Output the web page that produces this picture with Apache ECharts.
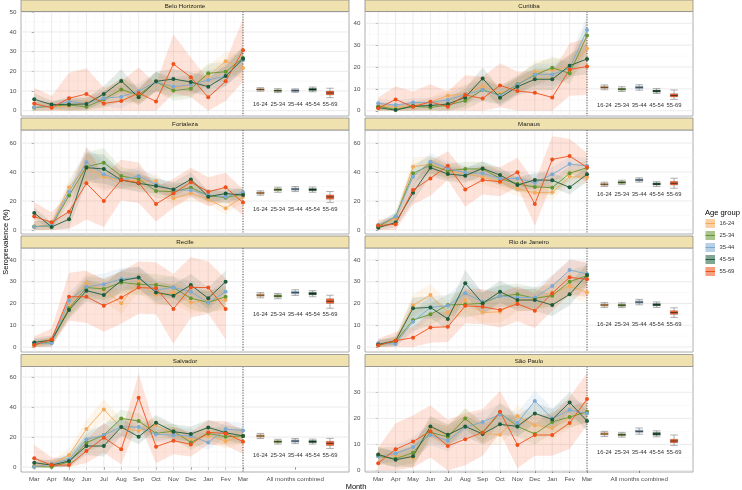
<!DOCTYPE html>
<html>
<head>
<meta charset="utf-8">
<script src="https://cdn.jsdelivr.net/npm/echarts@6/dist/echarts.min.js"></script>
<style>html,body{margin:0;padding:0;background:#fff;}#c{width:742px;height:490px;}</style>
</head>
<body>
<div id="c"></div>
<script>
// ---------------- DATA ----------------
const months = ['Mar','Apr','May','Jun','Jul','Aug','Sep','Oct','Nov','Dec','Jan','Fev','Mar'];
const combinedLabel = 'All months combined';
const ageGroups = ['16-24','25-34','35-44','45-54','55-69'];
const cities = ['Belo Horizonte','Curitiba','Fortaleza','Manaus','Recife','Rio de Janeiro','Salvador','São Paulo'];
const yTickValues = [
  [0,10,20,30,40,50],[0,10,20,30,40],[0,20,40,60],[0,20,40,60],
  [0,10,20,30,40],[0,10,20,30,40],[0,20,40,60],[0,10,20,30]
];

// monthly seroprevalence (%) per age group [16-24, 25-34, 35-44, 45-54, 55-69]
const bhValues = [
  [1.7,2.0,2.4,4.4,5.8,10.8,7.1,14.7,11.4,13.0,17.6,25.1,21.7],
  [1.5,2.4,2.9,2.0,5.8,10.8,8.0,14.7,10.2,11.2,19.0,19.8,26.8],
  [1.7,2.2,4.6,3.7,6.3,7.1,10.0,14.6,12.2,13.2,15.6,17.6,25.8],
  [5.8,3.1,3.2,3.4,8.5,15.1,6.8,14.9,16.1,14.6,12.2,17.6,26.4],
  [3.6,1.5,6.3,8.5,3.7,4.9,9.0,4.7,23.7,17.0,6.8,14.9,30.7]
];
const curitibaValues = [
  [2.1,1.8,2.1,4.1,6.9,7.8,11.3,7.9,11.3,17.9,18.6,20.2,28.5],
  [2.1,0.6,2.1,1.5,2.6,4.6,9.5,7.2,12.1,16.3,19.7,17.1,34.4],
  [3.4,2.6,3.8,3.8,4.9,7.5,9.5,6.9,11.8,16.6,16.6,19.4,36.9],
  [1.4,0.3,2.1,2.4,3.1,6.1,14.8,6.0,11.0,14.4,14.4,20.6,23.7],
  [1.1,5.2,1.8,4.1,1.8,7.2,5.6,11.6,9.0,8.2,6.1,18.9,20.2]
];
const fortalezaValues = [
  [2.1,3.9,29.4,43.0,36.8,34.5,33.8,33.8,21.8,25.3,21.4,14.9,23.0],
  [2.3,2.8,23.7,43.7,46.4,37.2,35.2,26.9,26.4,29.2,23.7,22.3,24.8],
  [2.1,3.4,26.4,46.7,38.4,34.5,37.2,31.5,27.6,27.4,24.1,23.0,26.0],
  [11.7,2.1,7.4,43.0,42.1,34.5,32.2,30.3,28.0,34.9,23.0,25.1,24.1],
  [9.2,5.3,12.6,32.2,20.0,34.5,32.6,17.9,25.3,32.9,26.4,29.4,18.9]
];
const manausValues = [
  [3.0,8.0,43.7,45.3,40.2,39.1,36.3,33.3,28.3,25.7,26.0,36.8,36.3],
  [2.3,9.2,39.1,44.8,40.7,42.1,42.1,35.6,31.7,29.7,29.2,39.1,43.0],
  [3.4,9.2,36.8,47.1,42.5,39.5,39.1,35.6,35.6,32.6,38.4,45.5,44.1],
  [1.6,5.1,25.7,43.0,38.6,37.5,42.5,37.9,31.0,34.5,34.3,29.4,38.4],
  [3.0,3.9,27.6,35.6,44.4,28.0,34.5,33.3,39.8,17.9,48.7,51.0,43.2]
];
const recifeValues = [
  [0.5,2.8,18.5,29.3,26.2,20.1,30.0,23.9,25.0,20.5,21.3,21.6],
  [1.2,2.5,17.8,27.3,26.7,29.7,28.8,28.5,27.3,22.4,20.5,23.1],
  [1.7,1.7,21.3,27.7,28.8,31.3,31.9,26.2,27.4,25.4,20.4,25.4],
  [2.1,3.2,17.0,25.9,23.9,30.5,31.9,25.1,23.6,28.5,22.4,30.0],
  [0.9,3.5,23.1,23.1,19.0,22.7,27.3,27.0,17.5,27.4,27.3,17.5]
];
const rioValues = [
  [0.8,2.9,19.2,23.9,15.8,21.6,15.8,16.2,21.3,21.9,24.7,28.0,25.1],
  [0.9,2.5,12.4,15.0,19.3,19.6,20.1,23.4,24.2,22.4,23.6,30.0,32.8],
  [1.7,1.4,11.6,18.2,19.0,24.7,20.8,23.4,22.8,22.7,28.0,35.4,33.6],
  [1.2,2.9,17.8,18.2,12.9,29.3,20.1,25.4,21.6,21.6,19.3,24.2,33.1],
  [0.8,2.9,4.3,9.0,9.3,18.9,18.5,17.0,19.8,16.7,24.7,32.0,31.1]
];
const salvadorValues = [
  [0.9,2.0,8.0,25.3,38.4,26.2,24.0,28.0,21.8,18.4,20.9,17.3,20.9],
  [0.2,0.0,3.6,16.2,21.3,32.4,30.7,22.4,24.0,16.4,22.4,20.2,20.7],
  [0.2,2.0,5.1,18.4,21.3,26.7,26.7,21.8,21.3,20.7,16.4,25.3,24.4],
  [2.9,1.3,4.0,14.0,14.0,26.7,20.2,29.6,23.6,22.0,26.4,22.9,20.7],
  [5.8,1.3,1.3,10.7,19.6,11.8,46.2,13.6,17.6,15.1,23.1,22.4,16.9]
];
const saoPauloValues = [
  [6.1,5.8,4.8,16.3,13.3,19.9,14.2,13.7,20.9,17.3,16.3,20.3,22.5],
  [5.4,4.5,6.8,14.6,12.9,19.9,14.4,22.1,16.9,14.0,18.6,20.5,22.5],
  [5.4,6.5,9.0,13.6,11.4,16.6,18.6,21.5,18.2,26.7,19.9,23.2,21.9],
  [6.1,4.1,5.4,16.9,13.7,16.9,14.0,17.7,16.9,21.9,19.6,26.1,19.0],
  [2.8,8.1,11.1,15.0,9.4,12.0,14.6,22.5,9.8,13.6,13.6,18.2,27.4]
];

// half-widths of the credible bands: [groups 16-54, group 55-69]
const bhBand = [[3,2,3,3,4,6,4,5,5,5,5,5,6],[8,6,13,13,8,10,13,9,15,10,9,10,16]];
const curitibaBand = [[2,2,2,2,3,4,5,4,4,5,5,5,7],[5,6,7,8,7,9,10,10,9,10,11,12,13]];
const fortalezaBand = [[4,3,6,10,10,6,6,5,5,5,4,4,4],[10,7,12,25,18,14,14,12,10,10,10,10,9]];
const manausBand = [[2,3,6,6,5,5,5,5,5,5,5,5,5],[4,5,10,12,10,12,10,10,10,15,16,12,10]];
const recifeBand = [[2,2,4,5,5,5,5,5,5,5,5,5],[4,5,11,12,12,12,12,12,16,14,12,14]];
const rioBand = [[2,2,5,5,5,6,5,5,5,5,5,5,5],[3,4,5,7,7,8,8,8,8,8,8,8,8]];
const salvadorBand = [[3,3,4,6,7,6,5,5,5,5,5,5,5],[9,5,4,8,10,10,16,11,9,8,8,8,8]];
const saoPauloBand = [[3,3,4,4,4,4,4,4,4,4,4,4,4],[6,10,10,10,10,10,9,8,9,8,8,10,10]];

// all months combined: [median, q1, q3, low, high] per age group
const bhCombined = [[10.8,10.2,10.2,10.8,9.0],[10.3,9.7,9.7,10.2,8.0],[11.2,10.6,10.7,11.4,10.0],[9.9,9.2,9.3,9.6,6.6],[11.7,11.2,11.1,12.0,11.4]];
const curitibaCombined = [[10.7,9.9,10.7,9.0,7.0],[10.2,9.4,10.1,8.5,6.3],[11.2,10.3,11.2,9.5,7.8],[9.6,8.8,9.4,7.9,5.2],[11.8,11.0,11.9,10.2,9.5]];
const fortalezaCombined = [[25.5,27.8,28.2,27.8,22.8],[24.8,27.0,27.4,27.0,21.2],[26.2,28.5,29.0,28.6,24.2],[24.0,26.0,26.5,26.0,19.0],[27.0,29.5,30.0,29.6,26.5]];
const manausCombined = [[31.5,32.8,34.5,31.7,32.2],[30.8,32.1,33.8,31.0,31.0],[32.2,33.5,35.2,32.5,33.6],[30.0,31.3,33.0,30.0,28.8],[33.0,34.3,36.0,33.3,35.7]];
const recifeCombined = [[23.8,23.4,25.0,24.5,21.0],[23.3,22.9,24.4,23.9,20.0],[24.4,24.0,25.6,25.2,22.2],[22.6,22.2,23.7,23.1,17.8],[25.0,24.6,26.3,25.9,23.8]];
const rioCombined = [[19.3,19.2,20.6,19.4,15.8],[18.8,18.7,20.1,18.9,15.0],[19.8,19.7,21.2,20.0,16.7],[18.2,18.1,19.4,18.2,13.6],[20.4,20.3,21.9,20.7,18.0]];
const salvadorCombined = [[20.7,16.9,17.3,16.9,15.8],[19.9,16.2,16.6,16.2,14.3],[21.5,17.6,18.1,17.7,17.2],[19.0,15.3,15.6,15.3,12.4],[22.4,18.5,19.0,18.6,19.1]];
const saoPauloCombined = [[14.0,13.7,15.0,14.0,11.3],[13.6,13.3,14.6,13.5,10.6],[14.5,14.1,15.5,14.6,12.0],[13.0,12.8,13.9,12.9,9.6],[15.0,14.6,16.3,15.2,13.6]];

const cityValues = [bhValues,curitibaValues,fortalezaValues,manausValues,recifeValues,rioValues,salvadorValues,saoPauloValues];
const cityBands = [bhBand,curitibaBand,fortalezaBand,manausBand,recifeBand,rioBand,salvadorBand,saoPauloBand];
const cityCombined = [bhCombined,curitibaCombined,fortalezaCombined,manausCombined,recifeCombined,rioCombined,salvadorCombined,saoPauloCombined];

// ---------------- STYLE / LAYOUT ----------------
const colors = ['#F5AA5A','#64962F','#7DAAD2','#1E5B3A','#F0501A'];
const FONT = '"Liberation Sans", Arial, Helvetica, sans-serif';
const colLeft = [21, 365], colWidth = 328;
const stripTop = [0, 118, 236, 354.5];
const plotTop = [11.5, 130, 248, 366.5];
const plotH = [104.5, 104, 104, 105.5];
const yRange = [[-2.7,50.4],[-2.4,45.4],[-2.8,69],[-2.8,69],[-2.3,45.5],[-2.3,45.5],[-3.3,67],[-0.6,39.9]];
const xRange = [-0.76, 18.09];
const combinedPos = 15; // x position of the "All months combined" tick (groups at 13..17)

const grids = [], xAxes = [], yAxes = [], series = [], graphics = [];

cities.forEach((name, k) => {
  const row = Math.floor(k / 2), col = k % 2;
  const bottom = row === 3;
  const step = yTickValues[k][1] - yTickValues[k][0];
  grids.push({left: colLeft[col], top: plotTop[row], width: colWidth, height: plotH[row],
    show: true, backgroundColor: '#fff', borderColor: '#9a9a9a', borderWidth: 0.8, containLabel: false});
  xAxes.push({type: 'value', gridIndex: k, min: xRange[0], max: xRange[1],
    axisLine: {show: false}, splitLine: {show: false},
    axisTick: {show: bottom, customValues: [0,1,2,3,4,5,6,7,8,9,10,11,12,combinedPos], length: 2.5, lineStyle: {color: '#555', width: 0.7}},
    axisLabel: {show: bottom, customValues: [0,1,2,3,4,5,6,7,8,9,10,11,12,combinedPos], margin: 4,
      fontSize: 6.2, color: '#4D4D4D', fontFamily: FONT,
      formatter: v => (Math.abs(v - combinedPos) < 1e-6 ? combinedLabel : months[Math.round(v)])}
  });
  yAxes.push({type: 'value', gridIndex: k, min: yRange[k][0], max: yRange[k][1],
    axisLine: {show: false}, splitLine: {show: false},
    axisTick: {show: true, customValues: yTickValues[k], length: 2.5, lineStyle: {color: '#555', width: 0.7}},
    axisLabel: {customValues: yTickValues[k], margin: 4.5, fontSize: 6.2, color: '#4D4D4D', fontFamily: FONT}
  });

  // gridlines
  series.push({type: 'custom', xAxisIndex: k, yAxisIndex: k, z: 1, silent: true, animation: false,
    data: [[0, 0]],
    renderItem: (params, api) => {
      const cs = params.coordSys, ch = [];
      for (let v = 0; v <= yRange[k][1] + 1e-9; v += step / 2) {
        const major = Math.abs(v / step - Math.round(v / step)) < 1e-6;
        const y = api.coord([0, v])[1];
        ch.push({type: 'line', shape: {x1: cs.x, y1: y, x2: cs.x + cs.width, y2: y},
          style: {stroke: major ? '#E6E6E6' : '#F3F3F3', lineWidth: major ? 0.8 : 0.5}});
      }
      for (let m = -0.5; m <= 12 + 1e-9; m += 0.5) {
        const major = Math.abs(m - Math.round(m)) < 1e-6;
        const x = api.coord([m, 0])[0];
        ch.push({type: 'line', shape: {x1: x, y1: cs.y, x2: x, y2: cs.y + cs.height},
          style: {stroke: major ? '#E6E6E6' : '#F3F3F3', lineWidth: major ? 0.8 : 0.5}});
      }
      return {type: 'group', children: ch};
    }
  });

  // bands + dotted separator
  const vals = cityValues[k], bands = cityBands[k];
  series.push({type: 'custom', xAxisIndex: k, yAxisIndex: k, z: 2, silent: true, animation: false,
    data: [[0, 0]],
    renderItem: (params, api) => {
      const cs = params.coordSys, ch = [];
      vals.forEach((arr, g) => {
        const hw = g === 4 ? bands[1] : bands[0];
        const up = [], lo = [];
        arr.forEach((v, i) => {
          up.push(api.coord([i, v + hw[i]]));
          lo.push(api.coord([i, Math.max(0, v - hw[i])]));
        });
        ch.push({type: 'polygon', shape: {points: up.concat(lo.reverse())},
          style: {fill: colors[g], opacity: g === 4 ? 0.16 : 0.12}});
      });
      const x = api.coord([12, 0])[0];
      ch.push({type: 'line', shape: {x1: x, y1: cs.y, x2: x, y2: cs.y + cs.height},
        style: {stroke: '#222', lineWidth: 0.8, lineDash: [1, 1.6]}});
      return {type: 'group', children: ch};
    }
  });

  // lines
  vals.forEach((arr, g) => {
    series.push({type: 'line', name: ageGroups[g], xAxisIndex: k, yAxisIndex: k, z: 3,
      silent: true, animation: false,
      data: arr.map((v, i) => [i, v]),
      symbol: 'circle', symbolSize: 4, showSymbol: true,
      lineStyle: {color: colors[g], width: 0.9},
      itemStyle: {color: colors[g]}
    });
  });

  // combined summaries
  const comb = cityCombined[k];
  const minLow = Math.min.apply(null, comb[3]);
  series.push({type: 'custom', xAxisIndex: k, yAxisIndex: k, z: 4, silent: true, animation: false,
    data: ageGroups.map((a, g) => [13 + g, comb[0][g], comb[1][g], comb[2][g], comb[3][g], comb[4][g], g]),
    renderItem: (params, api) => {
      const x = api.value(0), g = api.value(6);
      const pMed = api.coord([x, api.value(1)]);
      const pQ1 = api.coord([x, api.value(2)]);
      const pQ3 = api.coord([x, api.value(3)]);
      const pLo = api.coord([x, api.value(4)]);
      const pHi = api.coord([x, api.value(5)]);
      const px = pMed[0], bw = 7.5, cw = 7.5;
      const pLab = api.coord([x, minLow]);
      const dark = g === 3 ? '#0b1f12' : 'rgba(40,30,20,0.85)';
      return {type: 'group', children: [
        {type: 'line', shape: {x1: px, y1: pLo[1], x2: px, y2: pHi[1]}, style: {stroke: '#8c8c8c', lineWidth: 0.7}},
        {type: 'line', shape: {x1: px - cw/2, y1: pLo[1], x2: px + cw/2, y2: pLo[1]}, style: {stroke: '#8c8c8c', lineWidth: 0.7}},
        {type: 'line', shape: {x1: px - cw/2, y1: pHi[1], x2: px + cw/2, y2: pHi[1]}, style: {stroke: '#8c8c8c', lineWidth: 0.7}},
        {type: 'rect', shape: {x: px - bw/2, y: pQ3[1], width: bw, height: Math.max(1.5, pQ1[1] - pQ3[1])},
          style: {fill: colors[g], stroke: 'rgba(60,60,60,0.6)', lineWidth: 0.4, opacity: 0.9}},
        {type: 'line', shape: {x1: px - bw/2, y1: pMed[1], x2: px + bw/2, y2: pMed[1]}, style: {stroke: dark, lineWidth: 0.9}},
        {type: 'text', x: px, y: pLab[1] + 6.5,
          style: {text: ageGroups[g], fontSize: 5.8, fill: '#333', fontFamily: FONT, align: 'center', verticalAlign: 'middle'}}
      ]};
    }
  });

  // strip
  graphics.push({type: 'rect', shape: {x: colLeft[col], y: stripTop[row], width: colWidth, height: plotTop[row] - stripTop[row]},
    style: {fill: '#F0E2AF', stroke: '#8a8a8a', lineWidth: 0.8}, z: 10});
  graphics.push({type: 'text', x: colLeft[col] + colWidth / 2, y: (stripTop[row] + plotTop[row]) / 2 + 0.3,
    style: {text: name, fontSize: 6.2, fill: '#1A1A1A', fontFamily: FONT, align: 'center', verticalAlign: 'middle'}, z: 11});
});

// axis titles
graphics.push({type: 'text', x: 356, y: 487, style: {text: 'Month', fontSize: 7.4, fill: '#000', fontFamily: FONT, align: 'center', verticalAlign: 'middle'}, z: 11});
graphics.push({type: 'text', x: 5.5, y: 242, rotation: Math.PI / 2,
  style: {text: 'Seroprevalence (%)', fontSize: 7.4, fill: '#000', fontFamily: FONT, align: 'center', verticalAlign: 'middle'}, z: 11});

// legend
graphics.push({type: 'text', x: 705, y: 213, style: {text: 'Age group', fontSize: 7.6, fill: '#000', fontFamily: FONT, align: 'left', verticalAlign: 'middle'}, z: 11});
const legendY = [223.5, 235.5, 247.5, 259.5, 271.5];
ageGroups.forEach((a, g) => {
  graphics.push({type: 'rect', shape: {x: 705.5, y: legendY[g] - 4.5, width: 9.5, height: 9}, style: {fill: colors[g], opacity: 0.55}, z: 11});
  graphics.push({type: 'line', shape: {x1: 705.5, y1: legendY[g], x2: 715, y2: legendY[g]}, style: {stroke: colors[g], lineWidth: 1}, z: 12});
  graphics.push({type: 'text', x: 719.5, y: legendY[g], style: {text: a, fontSize: 5.8, fill: '#333', fontFamily: FONT, align: 'left', verticalAlign: 'middle'}, z: 12});
});

const chart = echarts.init(document.getElementById('c'), null, {renderer: 'canvas'});
chart.setOption({
  animation: false,
  backgroundColor: '#fff',
  grid: grids, xAxis: xAxes, yAxis: yAxes, series: series, graphic: graphics
});
</script>
</body>
</html>
